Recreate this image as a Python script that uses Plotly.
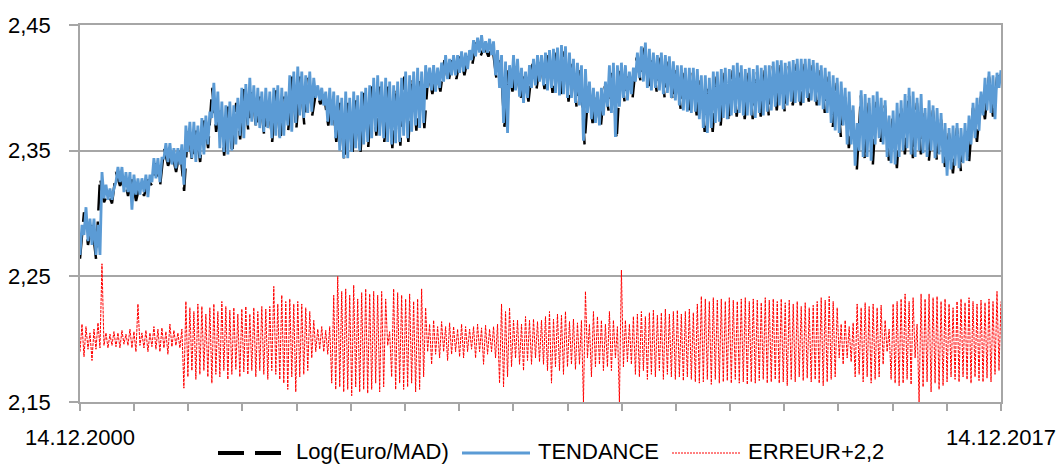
import pandas as pd
import plotly.graph_objects as go

START, END = "2000-12-14", "2017-12-14"

# TENDANCE: upper and lower readings of the dense daily band (one pair every ~27 days)
tendance_hi = [
    2.291, 2.305, 2.296, 2.296, 2.291, 2.333, 2.323, 2.320, 2.320, 2.337,
    2.337, 2.333, 2.333, 2.331, 2.328, 2.328, 2.331, 2.331, 2.344, 2.344,
    2.344, 2.356, 2.356, 2.352, 2.352, 2.355, 2.370, 2.373, 2.373, 2.370,
    2.376, 2.378, 2.381, 2.404, 2.397, 2.389, 2.386, 2.389, 2.386, 2.392,
    2.400, 2.403, 2.408, 2.402, 2.400, 2.397, 2.400, 2.397, 2.400, 2.402,
    2.400, 2.397, 2.410, 2.413, 2.417, 2.413, 2.410, 2.413, 2.408, 2.402,
    2.400, 2.397, 2.400, 2.397, 2.394, 2.392, 2.397, 2.392, 2.397, 2.394,
    2.397, 2.400, 2.402, 2.408, 2.410, 2.405, 2.408, 2.405, 2.402, 2.405,
    2.408, 2.413, 2.410, 2.413, 2.416, 2.413, 2.418, 2.416, 2.418, 2.416,
    2.420, 2.426, 2.423, 2.426, 2.426, 2.429, 2.428, 2.430, 2.438, 2.440,
    2.442, 2.437, 2.439, 2.437, 2.430, 2.426, 2.421, 2.418, 2.426, 2.423,
    2.416, 2.413, 2.418, 2.423, 2.426, 2.426, 2.428, 2.430, 2.431, 2.432,
    2.434, 2.433, 2.428, 2.423, 2.420, 2.418, 2.415, 2.405, 2.400, 2.397,
    2.400, 2.405, 2.418, 2.420, 2.418, 2.420, 2.418, 2.413, 2.416, 2.428,
    2.433, 2.436, 2.431, 2.428, 2.426, 2.428, 2.426, 2.425, 2.421, 2.418,
    2.418, 2.416, 2.416, 2.416, 2.415, 2.410, 2.410, 2.408, 2.413, 2.413,
    2.415, 2.416, 2.415, 2.418, 2.420, 2.418, 2.415, 2.416, 2.415, 2.418,
    2.416, 2.418, 2.418, 2.421, 2.422, 2.422, 2.420, 2.421, 2.422, 2.423,
    2.423, 2.423, 2.423, 2.422, 2.420, 2.418, 2.416, 2.413, 2.410, 2.408,
    2.405, 2.400, 2.397, 2.386, 2.372, 2.398, 2.395, 2.392, 2.394, 2.397,
    2.392, 2.390, 2.378, 2.382, 2.388, 2.390, 2.395, 2.400, 2.397, 2.392,
    2.395, 2.384, 2.390, 2.386, 2.384, 2.380, 2.372, 2.368, 2.370, 2.372,
    2.368, 2.372, 2.378, 2.388, 2.392, 2.397, 2.408, 2.413, 2.410, 2.412,
    2.414,
]
tendance_lo = [
    2.267, 2.283, 2.278, 2.275, 2.267, 2.267, 2.312, 2.311, 2.311, 2.325,
    2.325, 2.317, 2.317, 2.303, 2.315, 2.315, 2.317, 2.313, 2.325, 2.328,
    2.325, 2.344, 2.341, 2.339, 2.336, 2.339, 2.323, 2.349, 2.344, 2.341,
    2.344, 2.347, 2.355, 2.376, 2.370, 2.352, 2.349, 2.347, 2.350, 2.355,
    2.362, 2.360, 2.370, 2.373, 2.370, 2.368, 2.365, 2.368, 2.360, 2.362,
    2.360, 2.362, 2.370, 2.365, 2.372, 2.378, 2.376, 2.380, 2.381, 2.392,
    2.390, 2.386, 2.373, 2.370, 2.360, 2.350, 2.344, 2.344, 2.349, 2.352,
    2.350, 2.355, 2.357, 2.360, 2.365, 2.362, 2.360, 2.357, 2.355, 2.356,
    2.357, 2.362, 2.360, 2.365, 2.370, 2.368, 2.372, 2.400, 2.398, 2.397,
    2.400, 2.405, 2.407, 2.410, 2.410, 2.412, 2.413, 2.415, 2.422, 2.425,
    2.428, 2.428, 2.428, 2.426, 2.410, 2.400, 2.372, 2.364, 2.400, 2.398,
    2.393, 2.388, 2.392, 2.400, 2.402, 2.405, 2.402, 2.398, 2.400, 2.396,
    2.394, 2.395, 2.392, 2.392, 2.388, 2.386, 2.358, 2.380, 2.375, 2.372,
    2.370, 2.378, 2.385, 2.380, 2.361, 2.385, 2.392, 2.390, 2.395, 2.405,
    2.408, 2.405, 2.400, 2.398, 2.400, 2.398, 2.395, 2.396, 2.392, 2.390,
    2.386, 2.382, 2.381, 2.380, 2.381, 2.375, 2.368, 2.364, 2.368, 2.372,
    2.373, 2.376, 2.375, 2.378, 2.380, 2.380, 2.378, 2.378, 2.378, 2.376,
    2.380, 2.378, 2.381, 2.382, 2.385, 2.386, 2.383, 2.386, 2.389, 2.388,
    2.389, 2.388, 2.392, 2.390, 2.389, 2.386, 2.383, 2.380, 2.372, 2.366,
    2.364, 2.370, 2.355, 2.355, 2.338, 2.350, 2.345, 2.345, 2.342, 2.355,
    2.360, 2.355, 2.345, 2.340, 2.339, 2.345, 2.350, 2.352, 2.347, 2.345,
    2.350, 2.348, 2.345, 2.350, 2.344, 2.347, 2.340, 2.330, 2.335, 2.338,
    2.336, 2.340, 2.342, 2.355, 2.360, 2.366, 2.378, 2.382, 2.380, 2.375,
    2.400,
]

# Log(Euro/MAD): sampled every ~27 days
log_euro_mad = [
    2.264, 2.301, 2.275, 2.292, 2.264, 2.329, 2.309, 2.316, 2.308, 2.333,
    2.322, 2.329, 2.314, 2.327, 2.310, 2.324, 2.314, 2.327, 2.322, 2.340,
    2.322, 2.352, 2.338, 2.348, 2.333, 2.351, 2.318, 2.369, 2.341, 2.366,
    2.341, 2.374, 2.352, 2.400, 2.365, 2.385, 2.346, 2.385, 2.347, 2.388,
    2.359, 2.399, 2.367, 2.398, 2.367, 2.393, 2.362, 2.393, 2.357, 2.398,
    2.357, 2.393, 2.366, 2.409, 2.366, 2.409, 2.371, 2.409, 2.378, 2.398,
    2.387, 2.393, 2.370, 2.393, 2.357, 2.388, 2.341, 2.388, 2.345, 2.390,
    2.346, 2.396, 2.353, 2.404, 2.362, 2.401, 2.357, 2.401, 2.352, 2.401,
    2.354, 2.409, 2.357, 2.409, 2.366, 2.409, 2.368, 2.412, 2.395, 2.412,
    2.397, 2.422, 2.404, 2.422, 2.407, 2.425, 2.410, 2.426, 2.419, 2.436,
    2.425, 2.433, 2.425, 2.433, 2.407, 2.422, 2.369, 2.414, 2.397, 2.419,
    2.390, 2.409, 2.389, 2.419, 2.399, 2.422, 2.399, 2.426, 2.396, 2.428,
    2.391, 2.429, 2.389, 2.419, 2.385, 2.414, 2.355, 2.401, 2.372, 2.393,
    2.367, 2.401, 2.382, 2.416, 2.358, 2.416, 2.389, 2.409, 2.392, 2.424,
    2.405, 2.432, 2.397, 2.424, 2.397, 2.424, 2.392, 2.421, 2.389, 2.414,
    2.383, 2.412, 2.378, 2.412, 2.378, 2.406, 2.365, 2.404, 2.365, 2.409,
    2.370, 2.412, 2.372, 2.414, 2.377, 2.414, 2.375, 2.412, 2.375, 2.414,
    2.377, 2.414, 2.378, 2.417, 2.382, 2.418, 2.380, 2.417, 2.386, 2.419,
    2.386, 2.419, 2.389, 2.418, 2.386, 2.414, 2.380, 2.409, 2.369, 2.404,
    2.361, 2.396, 2.352, 2.382, 2.335, 2.394, 2.342, 2.388, 2.339, 2.393,
    2.357, 2.386, 2.342, 2.378, 2.336, 2.386, 2.347, 2.396, 2.344, 2.388,
    2.347, 2.380, 2.342, 2.382, 2.341, 2.376, 2.337, 2.364, 2.332, 2.368,
    2.333, 2.368, 2.339, 2.384, 2.357, 2.393, 2.375, 2.409, 2.377, 2.408,
    2.410,
]

# ERREUR+2,2: upper and lower readings of the residual band
erreur_hi = [
    2.212, 2.210, 2.205, 2.208, 2.213, 2.260, 2.205, 2.204, 2.206, 2.205,
    2.207, 2.204, 2.208, 2.206, 2.228, 2.205, 2.207, 2.205, 2.210, 2.208,
    2.209, 2.206, 2.212, 2.207, 2.205, 2.208, 2.230, 2.225, 2.222, 2.228,
    2.226, 2.220, 2.225, 2.228, 2.222, 2.230, 2.226, 2.223, 2.225, 2.220,
    2.224, 2.226, 2.220, 2.225, 2.222, 2.226, 2.224, 2.226, 2.242, 2.228,
    2.235, 2.230, 2.232, 2.228, 2.230, 2.228, 2.225, 2.222, 2.215, 2.208,
    2.210, 2.207, 2.210, 2.235, 2.250, 2.238, 2.240, 2.235, 2.243, 2.232,
    2.237, 2.240, 2.236, 2.238, 2.235, 2.238, 2.232, 2.206, 2.240, 2.237,
    2.235, 2.232, 2.236, 2.230, 2.232, 2.240, 2.225, 2.212, 2.215, 2.210,
    2.214, 2.210, 2.213, 2.210, 2.208, 2.212, 2.210, 2.208, 2.210, 2.212,
    2.209, 2.211, 2.208, 2.210, 2.212, 2.228, 2.222, 2.225, 2.215, 2.215,
    2.212, 2.218, 2.215, 2.216, 2.214, 2.215, 2.218, 2.222, 2.216, 2.220,
    2.219, 2.222, 2.214, 2.216, 2.213, 2.215, 2.238, 2.212, 2.222, 2.218,
    2.215, 2.212, 2.222, 2.215, 2.210, 2.255, 2.215, 2.212, 2.218, 2.220,
    2.222, 2.218, 2.221, 2.223, 2.219, 2.221, 2.224, 2.220, 2.222, 2.223,
    2.220, 2.222, 2.224, 2.221, 2.228, 2.234, 2.232, 2.230, 2.233, 2.231,
    2.232, 2.230, 2.233, 2.231, 2.230, 2.232, 2.233, 2.230, 2.232, 2.231,
    2.229, 2.233, 2.231, 2.232, 2.230, 2.232, 2.229, 2.231, 2.228, 2.230,
    2.226, 2.229, 2.225, 2.227, 2.230, 2.233, 2.231, 2.234, 2.230, 2.225,
    2.212, 2.215, 2.210, 2.213, 2.228, 2.225, 2.229, 2.226, 2.228, 2.225,
    2.227, 2.215, 2.208, 2.228, 2.230, 2.232, 2.236, 2.230, 2.233, 2.212,
    2.236, 2.232, 2.236, 2.233, 2.234, 2.230, 2.232, 2.228, 2.225, 2.230,
    2.232, 2.229, 2.233, 2.230, 2.228, 2.231, 2.229, 2.232, 2.230, 2.238,
    2.230,
]
erreur_lo = [
    2.190, 2.186, 2.192, 2.183, 2.192, 2.193, 2.195, 2.193, 2.195, 2.194,
    2.193, 2.196, 2.195, 2.193, 2.190, 2.195, 2.193, 2.190, 2.194, 2.192,
    2.190, 2.193, 2.188, 2.194, 2.195, 2.193, 2.161, 2.170, 2.175, 2.168,
    2.172, 2.175, 2.170, 2.165, 2.172, 2.170, 2.175, 2.168, 2.172, 2.176,
    2.170, 2.174, 2.172, 2.175, 2.170, 2.175, 2.172, 2.168, 2.175, 2.172,
    2.168, 2.165, 2.160, 2.170, 2.158, 2.170, 2.172, 2.175, 2.185, 2.190,
    2.192, 2.190, 2.188, 2.165, 2.160, 2.162, 2.158, 2.160, 2.155, 2.162,
    2.158, 2.160, 2.157, 2.160, 2.165, 2.158, 2.162, 2.195, 2.170, 2.160,
    2.165, 2.160, 2.162, 2.165, 2.158, 2.160, 2.170, 2.190, 2.180, 2.188,
    2.185, 2.190, 2.183, 2.188, 2.190, 2.186, 2.185, 2.190, 2.192, 2.185,
    2.190, 2.180, 2.188, 2.190, 2.185, 2.165, 2.162, 2.170, 2.178, 2.185,
    2.180, 2.175, 2.183, 2.180, 2.185, 2.182, 2.180, 2.175, 2.165, 2.178,
    2.175, 2.172, 2.178, 2.180, 2.176, 2.180, 2.150, 2.185, 2.170, 2.178,
    2.180, 2.175, 2.178, 2.175, 2.185, 2.150, 2.178, 2.182, 2.180, 2.172,
    2.170, 2.175, 2.168, 2.172, 2.170, 2.175, 2.168, 2.172, 2.170, 2.168,
    2.170, 2.167, 2.170, 2.168, 2.166, 2.165, 2.166, 2.168, 2.164, 2.168,
    2.165, 2.166, 2.167, 2.165, 2.168, 2.165, 2.166, 2.164, 2.166, 2.165,
    2.167, 2.168, 2.165, 2.166, 2.168, 2.165, 2.166, 2.163, 2.168, 2.166,
    2.170, 2.167, 2.169, 2.166, 2.168, 2.165, 2.163, 2.166, 2.168, 2.170,
    2.185, 2.180, 2.185, 2.182, 2.170, 2.172, 2.166, 2.170, 2.165, 2.168,
    2.170, 2.180, 2.190, 2.168, 2.165, 2.163, 2.165, 2.168, 2.164, 2.185,
    2.150, 2.162, 2.166, 2.158, 2.165, 2.160, 2.163, 2.166, 2.170, 2.168,
    2.166, 2.170, 2.168, 2.165, 2.170, 2.167, 2.166, 2.169, 2.166, 2.172,
    2.175,
]

tick_dates = [f"{year}-12-14" for year in range(2000, 2018)]
tick_text = ["14.12.2000"] + [""] * 16 + ["14.12.2017"]
y_ticks = [2.15, 2.25, 2.35, 2.45]

BLUE = "#5B9BD5"
RED = "#FF0000"
GRID = "#A6A6A6"
FONT = "Liberation Sans, Arial, sans-serif"
FONT_SIZE = 22


def alternate(lo, hi):
    """Order the low/high readings so the line swings across the band."""
    seq = []
    for a, b in zip(lo, hi):
        seq.extend([a, b])
    return seq


band_dates = pd.date_range(START, END, periods=2 * len(tendance_lo))
log_dates = pd.date_range(START, END, periods=len(log_euro_mad))

fig = go.Figure()
fig.add_trace(go.Scatter(
    x=log_dates, y=log_euro_mad, mode="lines", name="Log(Euro/MAD)",
    line=dict(color="black", width=2.5, dash="26px,11px"),
))
fig.add_trace(go.Scatter(
    x=band_dates, y=alternate(tendance_lo, tendance_hi), mode="lines", name="TENDANCE",
    line=dict(color=BLUE, width=2.8),
))
fig.add_trace(go.Scatter(
    x=band_dates, y=alternate(erreur_lo, erreur_hi), mode="lines", name="ERREUR+2,2",
    line=dict(color=RED, width=1, dash="3px,1px"),
))

# plot area spans x 80..1001 px and y 25..402 px
L, R, T, B = 80, 58, 25, 64
PW, PH = 1059 - L - R, 466 - T - B


def px(x):
    return (x - L) / PW


def py(y):
    return (T + PH - y) / PH


legend_line_y = 453
legend_text_y = 451
shapes = [
    dict(type="line", xref="paper", yref="paper", x0=px(218), x1=px(281),
         y0=py(legend_line_y), y1=py(legend_line_y),
         line=dict(color="black", width=4, dash="26px,11px")),
    dict(type="line", xref="paper", yref="paper", x0=px(462), x1=px(530),
         y0=py(legend_line_y), y1=py(legend_line_y), line=dict(color=BLUE, width=3)),
    dict(type="line", xref="paper", yref="paper", x0=px(672), x1=px(740),
         y0=py(legend_line_y), y1=py(legend_line_y),
         line=dict(color=RED, width=1, dash="2px,1px")),
]
annotations = [
    dict(text=label, x=px(x0), y=py(legend_text_y), xref="paper", yref="paper",
         xanchor="left", yanchor="middle", showarrow=False,
         font=dict(family=FONT, size=FONT_SIZE, color="black"))
    for label, x0 in [("Log(Euro/MAD)", 294), ("TENDANCE", 536), ("ERREUR+2,2", 746)]
]

fig.update_layout(
    width=1059, height=466,
    margin=dict(l=L, r=R, t=T, b=B),
    paper_bgcolor="white", plot_bgcolor="white",
    showlegend=False,
    separators=", ",
    font=dict(family=FONT, size=FONT_SIZE, color="black"),
    shapes=shapes,
    annotations=annotations,
)
fig.update_xaxes(
    type="date", range=[START, END],
    tickmode="array", tickvals=tick_dates, ticktext=tick_text, tickangle=0,
    ticks="outside", ticklen=7, tickwidth=1.5, tickcolor=GRID,
    ticklabelstandoff=8, ticklabeloverflow="allow",
    showgrid=False, zeroline=False,
    showline=True, linecolor=GRID, linewidth=1.5, mirror=True,
    automargin=False,
)
fig.update_yaxes(
    range=[2.15, 2.45], tickmode="array", tickvals=y_ticks, tickformat=".2f",
    ticks="outside", ticklen=9, tickwidth=1.5, tickcolor=GRID,
    ticklabelstandoff=14,
    showgrid=True, gridcolor=GRID, gridwidth=1.5, zeroline=False,
    showline=True, linecolor=GRID, linewidth=1.5, mirror=True,
    automargin=False,
)

fig.write_html("out.html")
